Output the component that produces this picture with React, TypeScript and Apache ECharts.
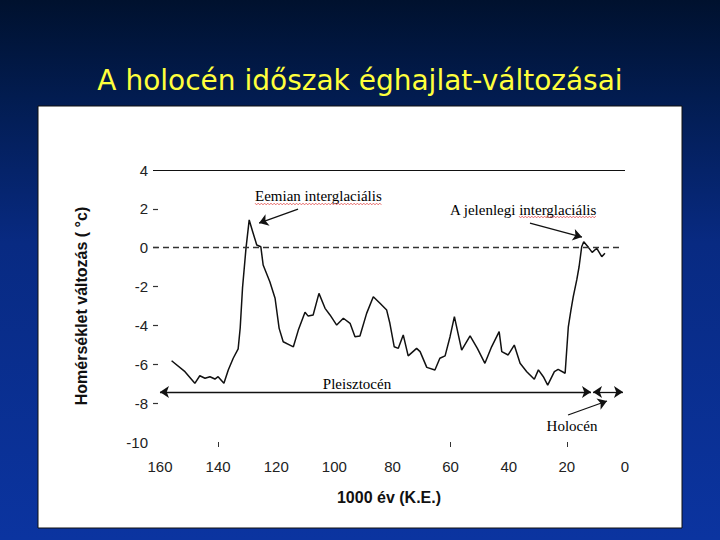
import React, { useEffect, useRef } from "react";
import * as echarts from "echarts";

const titleText = "A holocén időszak éghajlat-változásai";
const yAxisName = "Homérséklet változás ( °c)";
const xAxisName = "1000 év (K.E.)";

// thousand years before present
const kaBP = [
  156.0, 151.4, 148.0, 146.3, 144.5, 142.8, 141.1, 140.0, 138.0, 136.5,
  134.8, 133.1, 132.4, 131.6, 130.4, 129.3, 128.1, 126.7, 125.3, 124.5,
  122.2, 120.4, 119.0, 117.6, 115.3, 114.1, 112.4, 110.1, 109.0, 107.3,
  105.3, 103.2, 101.5, 99.2, 96.9, 94.6, 92.9, 91.2, 88.9, 86.6,
  84.3, 82.0, 80.9, 79.4, 78.0, 76.3, 74.6, 71.7, 70.5, 68.2,
  65.4, 63.7, 61.9, 60.2, 58.7, 56.2, 53.3, 50.8, 48.2, 45.9,
  43.3, 42.4, 40.2, 38.1, 36.1, 33.8, 31.2, 29.8, 28.1, 26.6,
  24.3, 23.0, 20.6, 19.5, 18.6, 17.8, 16.6, 15.8, 14.9, 14.2,
  12.6, 11.3, 9.7, 8.0, 6.9,
];
// temperature change (°C)
const tempChange = [
  -5.82, -6.38, -6.98, -6.59, -6.72, -6.64, -6.76, -6.64, -6.98, -6.29,
  -5.69, -5.21, -4.13, -2.07, -0.02, 1.43, 0.82, 0.14, 0.05, -0.89,
  -1.75, -2.6, -4.15, -4.84, -5.01, -5.1, -4.24, -3.32, -3.52, -3.46,
  -2.35, -3.12, -3.46, -3.98, -3.63, -3.89, -4.58, -4.54, -3.38, -2.52,
  -2.86, -3.21, -3.89, -5.1, -5.18, -4.49, -5.57, -5.18, -5.35, -6.16,
  -6.29, -5.69, -5.57, -4.58, -3.55, -5.27, -4.54, -5.18, -5.95, -5.1,
  -4.32, -5.35, -5.52, -5.01, -5.95, -6.38, -6.77, -6.29, -6.64, -7.07,
  -6.38, -6.26, -6.46, -4.07, -3.21, -2.52, -1.66, -0.98, 0.05, 0.31,
  0.02, -0.24, -0.03, -0.46, -0.29,
];

const yMin = -10;
const yMax = 4;
const yStep = 2;
const xMin = 0;
const xMax = 162.4;
const xStep = 20;
const xTickMarks = [140, 60, 20];
const yDashTicks = [-8, -6, -4, -2, 0, 2];

const topLineY = 4;
const zeroLineY = 0;
const pleistoceneSpan = [160, 11.7];
const holoceneSpan = [11.0, 0.7];
const periodArrowY = -7.43;
const eemianArrow = [[112.5, 1.99], [125.9, 1.27]];
const presentArrow = [[32.7, 1.27], [14.8, 0.55]];
const holoceneArrow = [[19.6, -8.61], [6.2, -7.89]];

const serif = "'Liberation Serif', 'DejaVu Serif', serif";
const sans = "'Liberation Sans', Arial, sans-serif";

function wavy(x0: number, x1: number, y: number): number[][] {
  const pts: number[][] = [];
  let up = true;
  for (let x = x0; x <= x1; x += 1.6) {
    pts.push([x, y + (up ? -0.9 : 0.9)]);
    up = !up;
  }
  return pts;
}

export default function App() {
  const ref = useRef<HTMLDivElement>(null);

  useEffect(() => {
    document.body.style.margin = "0";
    if (!ref.current) return;
    const chart = echarts.init(ref.current, null, { renderer: "svg" });

    const arrowLine = { color: "#111", width: 1.3, type: "solid" as const };

    const annotation = (text: string, x: number, y: number, align: string) => ({
      type: "text",
      x,
      y,
      style: {
        text,
        font: `15px ${serif}`,
        fill: "#000",
        align,
        verticalAlign: "middle",
      },
    });

    const option: any = {
      animation: false,
      backgroundColor: "transparent",
      title: {
        text: titleText,
        left: "center",
        top: 61,
        textStyle: {
          color: "#ffff3c",
          fontSize: 28,
          fontWeight: "normal",
          fontFamily: "'DejaVu Sans', sans-serif",
        },
      },
      graphic: [
        {
          type: "rect",
          z: -10,
          shape: { x: 38, y: 106, width: 644, height: 422 },
          style: { fill: "#ffffff", stroke: "#111", lineWidth: 1 },
          silent: true,
        },
        annotation("Eemian interglaciális", 255, 196, "left"),
        {
          type: "polyline",
          shape: { points: wavy(255, 383, 204) },
          style: { stroke: "#e04040", lineWidth: 0.7, fill: "none" },
        },
        annotation("A jelenlegi interglaciális", 450, 210, "left"),
        {
          type: "polyline",
          shape: { points: wavy(519, 597, 217) },
          style: { stroke: "#e04040", lineWidth: 0.7, fill: "none" },
        },
        annotation("Pleisztocén", 357, 384, "center"),
        annotation("Holocén", 572, 426, "center"),
      ],
      grid: { left: 153, right: 95, top: 170, bottom: 98 },
      xAxis: {
        type: "value",
        inverse: true,
        min: xMin,
        max: xMax,
        interval: xStep,
        name: xAxisName,
        nameLocation: "middle",
        nameGap: 47,
        nameTextStyle: {
          fontFamily: sans,
          fontWeight: "bold",
          fontSize: 16,
          color: "#111",
        },
        axisLine: { show: false, onZero: false },
        splitLine: { show: false },
        axisTick: {
          show: true,
          customValues: xTickMarks,
          length: 5,
          lineStyle: { color: "#333", width: 1 },
        },
        axisLabel: {
          showMaxLabel: false,
          margin: 17,
          fontFamily: sans,
          fontSize: 15,
          color: "#222",
        },
      },
      yAxis: {
        type: "value",
        min: yMin,
        max: yMax,
        interval: yStep,
        name: yAxisName,
        nameLocation: "middle",
        nameGap: 64,
        nameTextStyle: {
          fontFamily: sans,
          fontWeight: "bold",
          fontSize: 16,
          color: "#111",
        },
        axisLine: { show: false, onZero: false },
        splitLine: { show: false },
        axisTick: {
          show: true,
          inside: true,
          length: 5,
          customValues: yDashTicks,
          lineStyle: { color: "#333", width: 1.2 },
        },
        axisLabel: {
          margin: 5,
          fontFamily: sans,
          fontSize: 15,
          color: "#222",
        },
      },
      series: [
        {
          type: "line",
          data: kaBP.map((x, i) => [x, tempChange[i]]),
          symbol: "none",
          lineStyle: { color: "#111", width: 1.5 },
          z: 3,
          markLine: {
            silent: true,
            animation: false,
            label: { show: false },
            symbolSize: 9,
            data: [
              [
                { coord: [xMax, topLineY], symbol: "none", lineStyle: { color: "#111", width: 1, type: "solid" } },
                { coord: [xMin, topLineY], symbol: "none" },
              ],
              [
                { coord: [xMax, zeroLineY], symbol: "none", lineStyle: { color: "#333", width: 1.3, type: [6, 4] } },
                { coord: [1, zeroLineY], symbol: "none" },
              ],
              [
                { coord: [pleistoceneSpan[0], periodArrowY], symbol: "arrow", lineStyle: arrowLine },
                { coord: [pleistoceneSpan[1], periodArrowY], symbol: "arrow" },
              ],
              [
                { coord: [holoceneSpan[0], periodArrowY], symbol: "arrow", lineStyle: arrowLine },
                { coord: [holoceneSpan[1], periodArrowY], symbol: "arrow" },
              ],
              [
                { coord: eemianArrow[0], symbol: "none", lineStyle: arrowLine },
                { coord: eemianArrow[1], symbol: "arrow" },
              ],
              [
                { coord: presentArrow[0], symbol: "none", lineStyle: arrowLine },
                { coord: presentArrow[1], symbol: "arrow" },
              ],
              [
                { coord: holoceneArrow[0], symbol: "none", lineStyle: arrowLine },
                { coord: holoceneArrow[1], symbol: "arrow" },
              ],
            ],
          },
        },
      ],
    };

    chart.setOption(option);
    return () => chart.dispose();
  }, []);

  return (
    <div
      style={{
        width: 720,
        height: 540,
        background:
          "linear-gradient(to bottom, #00112e 0%, #021c50 18%, #082a82 45%, #0b34a0 100%)",
      }}
    >
      <div ref={ref} style={{ width: 720, height: 540 }} />
    </div>
  );
}
